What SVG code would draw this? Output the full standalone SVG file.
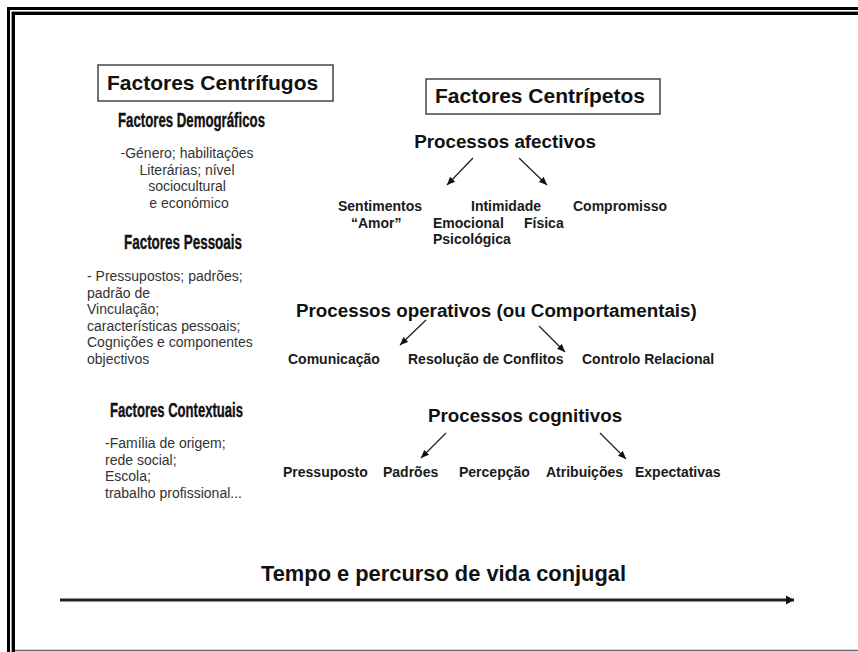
<svg xmlns="http://www.w3.org/2000/svg" width="858" height="652" viewBox="0 0 858 652">
<defs>
<style>
.h1{font-family:"Liberation Sans",Arial,sans-serif;font-weight:bold;font-size:21px;fill:#111}
.h2{font-family:"Liberation Sans",Arial,sans-serif;font-weight:bold;font-size:18.8px;fill:#111}
.cond{font-family:"Liberation Sans",Arial,sans-serif;font-weight:bold;font-size:19.5px;fill:#111;stroke:#111;stroke-width:0.35}
.lbl{font-family:"Liberation Sans",Arial,sans-serif;font-weight:bold;font-size:14px;fill:#1a1a1a}
.body{font-family:"Liberation Sans",Arial,sans-serif;font-size:14px;fill:#333}
.box{fill:#fff;stroke:#444;stroke-width:1.5}
.conn{stroke:#222;stroke-width:1.3;fill:none}
</style>
<marker id="ah" markerUnits="userSpaceOnUse" markerWidth="9" markerHeight="8" refX="8" refY="4" orient="auto">
<path d="M0,0.5 L8,4 L0,7.5 z" fill="#111"/>
</marker>
<marker id="ahBig" markerUnits="userSpaceOnUse" markerWidth="10" markerHeight="10" refX="8" refY="5" orient="auto">
<path d="M0,0.5 L8,5 L0,9.5 z" fill="#111"/>
</marker>
</defs>
<rect width="858" height="652" fill="#fff"/>
<g id="frame" fill="none">
<path d="M8.5,652 V8.5 H858" stroke="#000" stroke-width="3"/>
<path d="M11.5,652 V11.5 H858" stroke="#999" stroke-width="1"/>
<path d="M13.5,652 V13.5 H858" stroke="#000" stroke-width="3"/>
<path d="M15,650.5 H858" stroke="#666" stroke-width="1.5"/>
</g>

<g id="centrifugos">
<rect class="box" x="98" y="65" width="235" height="36"/>
<text class="h1" x="107" y="90">Factores Centrífugos</text>
</g>
<g id="demograficos">
<text class="cond" x="118" y="127" textLength="147" lengthAdjust="spacingAndGlyphs">Factores Demográficos</text>
<text class="body" text-anchor="middle">
<tspan x="189" y="158">-Género; habilitações</tspan>
<tspan x="189" y="174.5">Literárias; nível</tspan>
<tspan x="189" y="191">sociocultural</tspan>
<tspan x="189" y="207.5">e económico</tspan>
</text>
</g>
<g id="pessoais">
<text class="cond" x="124" y="249" textLength="118" lengthAdjust="spacingAndGlyphs">Factores Pessoais</text>
<text class="body">
<tspan x="87" y="281">- Pressupostos; padrões;</tspan>
<tspan x="87" y="297.5">padrão de</tspan>
<tspan x="87" y="314">Vinculação;</tspan>
<tspan x="87" y="330.5">características pessoais;</tspan>
<tspan x="87" y="347">Cognições e componentes</tspan>
<tspan x="87" y="363.5">objectivos</tspan>
</text>
</g>
<g id="contextuais">
<text class="cond" x="110" y="417" textLength="133" lengthAdjust="spacingAndGlyphs">Factores Contextuais</text>
<text class="body">
<tspan x="105" y="448">-Família de origem;</tspan>
<tspan x="105" y="464.5">rede social;</tspan>
<tspan x="105" y="481">Escola;</tspan>
<tspan x="105" y="497.5">trabalho profissional...</tspan>
</text>
</g>

<g id="centripetos">
<rect class="box" x="426" y="79" width="234" height="35"/>
<text class="h1" x="435" y="103">Factores Centrípetos</text>
</g>
<g id="afectivos">
<text class="h2" x="505" y="148" text-anchor="middle">Processos afectivos</text>
</g>
<g id="sentimentos">
<text class="lbl" x="338" y="211">Sentimentos</text>
<text class="lbl" x="351" y="227.5">“Amor”</text>
</g>
<g id="intimidade">
<text class="lbl" x="471" y="211">Intimidade</text>
<text class="lbl" x="433" y="227.5">Emocional</text>
<text class="lbl" x="524" y="227.5">Física</text>
<text class="lbl" x="433" y="244">Psicológica</text>
</g>
<g id="compromisso">
<text class="lbl" x="573" y="211">Compromisso</text>
</g>

<g id="operativos">
<text class="h2" x="296" y="317">Processos operativos (ou Comportamentais)</text>
</g>
<g id="comunicacao"><text class="lbl" x="288" y="364">Comunicação</text></g>
<g id="resolucao"><text class="lbl" x="408" y="364">Resolução de Conflitos</text></g>
<g id="controlo"><text class="lbl" x="582" y="364">Controlo Relacional</text></g>

<g id="cognitivos">
<text class="h2" x="428" y="422">Processos cognitivos</text>
</g>
<g id="pressuposto"><text class="lbl" x="283" y="477">Pressuposto</text></g>
<g id="padroes"><text class="lbl" x="383" y="477">Padrões</text></g>
<g id="percepcao"><text class="lbl" x="459" y="477">Percepção</text></g>
<g id="atribuicoes"><text class="lbl" x="546" y="477">Atribuições</text></g>
<g id="expectativas"><text class="lbl" x="635" y="477">Expectativas</text></g>

<g id="tempo">
<text class="h1" x="261" y="581" textLength="365" lengthAdjust="spacingAndGlyphs" style="font-size:22px">Tempo e percurso de vida conjugal</text>
</g>

<g id="connectors">
<line class="conn" x1="473" y1="158" x2="447" y2="185" marker-end="url(#ah)"/>
<line class="conn" x1="519" y1="158" x2="547" y2="185" marker-end="url(#ah)"/>
<line class="conn" x1="426" y1="320" x2="400" y2="345" marker-end="url(#ah)"/>
<line class="conn" x1="539" y1="326" x2="565" y2="352" marker-end="url(#ah)"/>
<line class="conn" x1="446" y1="433" x2="421" y2="458" marker-end="url(#ah)"/>
<line class="conn" x1="600" y1="433" x2="626" y2="459" marker-end="url(#ah)"/>
<line x1="60" y1="600" x2="794" y2="600" stroke="#222" stroke-width="3" marker-end="url(#ahBig)"/>
</g>
</svg>
